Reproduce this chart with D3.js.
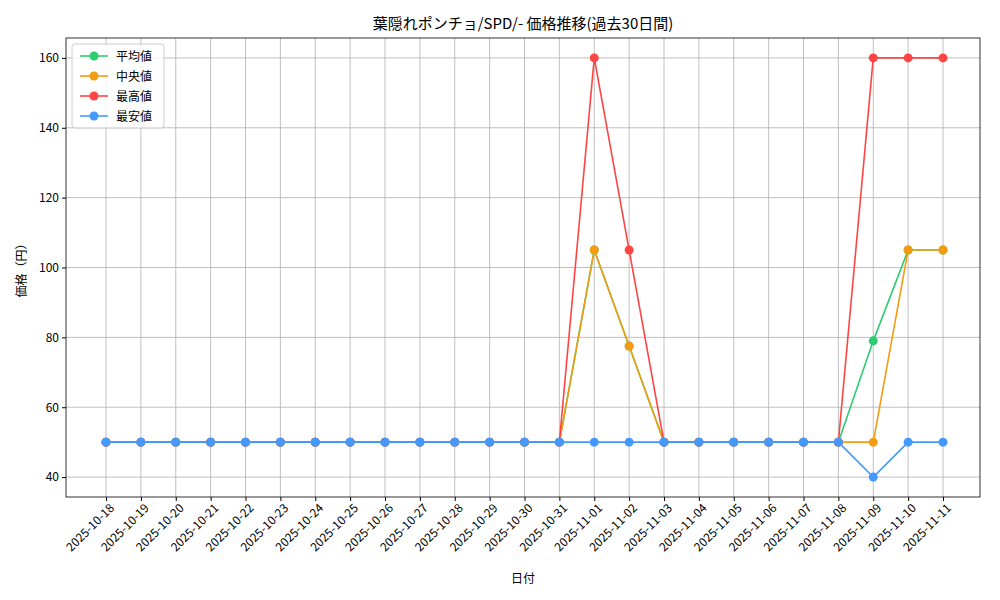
<!DOCTYPE html>
<html><head><meta charset="utf-8">
<script src="https://cdn.jsdelivr.net/npm/d3@7"></script>
<style>body{margin:0;background:#fff}text{font-family:"Noto Sans CJK JP",sans-serif}</style>
</head><body>
<script>
var w = 1000, h = 600;
var margin = {left: 66, right: 20, top: 38, bottom: 103};

// Data
var dates = ["2025-10-18","2025-10-19","2025-10-20","2025-10-21","2025-10-22","2025-10-23","2025-10-24","2025-10-25","2025-10-26","2025-10-27","2025-10-28","2025-10-29","2025-10-30","2025-10-31","2025-11-01","2025-11-02","2025-11-03","2025-11-04","2025-11-05","2025-11-06","2025-11-07","2025-11-08","2025-11-09","2025-11-10","2025-11-11"];
var avgVals = [50,50,50,50,50,50,50,50,50,50,50,50,50,50,105,77.5,50,50,50,50,50,50,79,105,105];
var medVals = [50,50,50,50,50,50,50,50,50,50,50,50,50,50,105,77.5,50,50,50,50,50,50,50,105,105];
var maxVals = [50,50,50,50,50,50,50,50,50,50,50,50,50,50,160,105,50,50,50,50,50,50,160,160,160];
var minVals = [50,50,50,50,50,50,50,50,50,50,50,50,50,50,50,50,50,50,50,50,50,50,40,50,50];
var yTicks = [40,60,80,100,120,140,160];

var series = [
  {name: "平均値", values: avgVals, color: "#2ecc71"},
  {name: "中央値", values: medVals, color: "#f39c12"},
  {name: "最高値", values: maxVals, color: "#ff4444"},
  {name: "最安値", values: minVals, color: "#4499ff"}
];

var svg = d3.select("body").append("svg").attr("width", w).attr("height", h);
var pw = w - margin.left - margin.right, ph = h - margin.top - margin.bottom;

var x = d3.scalePoint().domain(dates).range([margin.left + 40, margin.left + pw - 37]);
var y = d3.scaleLinear().domain([34.3, 165.7]).range([margin.top + ph, margin.top]);

// grid
svg.append("g").selectAll("line").data(dates).enter().append("line")
  .attr("x1", d => x(d)).attr("x2", d => x(d))
  .attr("y1", margin.top).attr("y2", margin.top + ph)
  .attr("stroke", "#b0b0b0").attr("stroke-width", 0.8);
svg.append("g").selectAll("line").data(yTicks).enter().append("line")
  .attr("x1", margin.left).attr("x2", margin.left + pw)
  .attr("y1", d => y(d)).attr("y2", d => y(d))
  .attr("stroke", "#b0b0b0").attr("stroke-width", 0.8);

// axes
var xa = svg.append("g").attr("transform", "translate(0," + (margin.top + ph) + ")")
  .call(d3.axisBottom(x).tickSizeOuter(0).tickSize(4));
xa.selectAll("text").attr("font-size", 12).attr("fill", "#000")
  .attr("text-anchor", "end").attr("dx", "-0.2em").attr("dy", "0.6em")
  .attr("transform", "rotate(-45)");
xa.select(".domain").remove();
var ya = svg.append("g").attr("transform", "translate(" + margin.left + ",0)")
  .call(d3.axisLeft(y).tickValues(yTicks).tickSize(4));
ya.selectAll("text").attr("font-size", 12).attr("fill", "#000");
ya.select(".domain").remove();

svg.append("rect").attr("x", margin.left).attr("y", margin.top).attr("width", pw).attr("height", ph)
  .attr("fill", "none").attr("stroke", "#000").attr("stroke-width", 0.8);

// lines
var line = d3.line().x((d, i) => x(dates[i])).y(d => y(d));
series.forEach(function(s) {
  svg.append("path").datum(s.values).attr("d", line)
    .attr("fill", "none").attr("stroke", s.color).attr("stroke-width", 1.6);
  svg.append("g").selectAll("circle").data(s.values).enter().append("circle")
    .attr("cx", (d, i) => x(dates[i])).attr("cy", d => y(d)).attr("r", 4.5)
    .attr("fill", s.color);
});

// labels
svg.append("text").attr("x", margin.left + pw / 2).attr("y", 29).attr("text-anchor", "middle")
  .attr("font-size", 15).text("葉隠れポンチョ/SPD/- 価格推移(過去30日間)");
svg.append("text").attr("x", margin.left + pw / 2).attr("y", 583).attr("text-anchor", "middle")
  .attr("font-size", 12).text("日付");
svg.append("text").attr("transform", "translate(26," + (margin.top + ph / 2) + ") rotate(-90)")
  .attr("text-anchor", "middle").attr("font-size", 12).text("価格（円）");

// legend
var lg = svg.append("g").attr("transform", "translate(72,44)");
lg.append("rect").attr("width", 92).attr("height", 84).attr("rx", 3)
  .attr("fill", "#fff").attr("fill-opacity", 0.8).attr("stroke", "#ccc");
series.forEach(function(s, i) {
  var g = lg.append("g").attr("transform", "translate(0," + (12 + i * 20) + ")");
  g.append("line").attr("x1", 8).attr("x2", 36).attr("stroke", s.color).attr("stroke-width", 1.6);
  g.append("circle").attr("cx", 22).attr("r", 4.5).attr("fill", s.color);
  g.append("text").attr("x", 44).attr("y", 4.5).attr("font-size", 12).text(s.name);
});
</script>
</body></html>
